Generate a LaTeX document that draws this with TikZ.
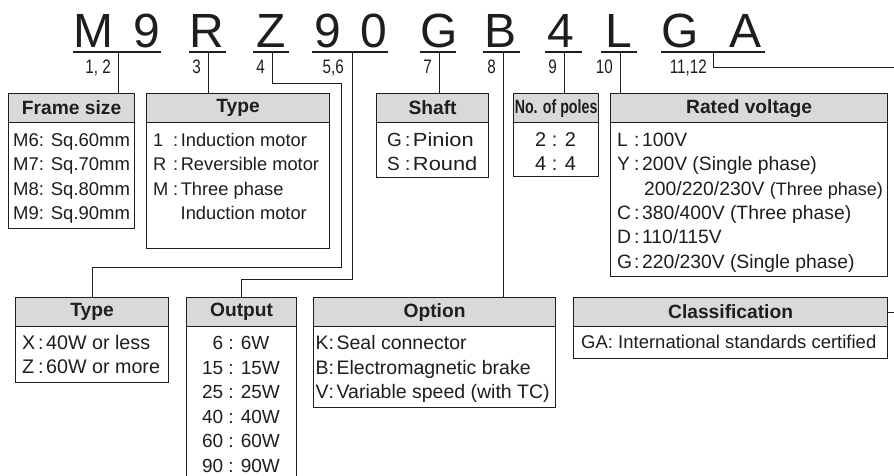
\documentclass[tikz,border=0pt]{standalone}
\usepackage{fontspec}
\setmainfont{Liberation Sans}
\usepackage{graphicx}
\definecolor{hdrgray}{HTML}{D9D9D9}
\definecolor{ink}{HTML}{1E1E1E}
\newcommand\cdl[3]{\makebox[#1pt][l]{#2}:\hspace{2.5pt}#3}
\newcommand\cnd[1]{\scalebox{0.78}[1]{#1}}
\newcommand\wide[1]{\scalebox{1.15}[1]{#1}}
\tikzset{
  bodybox/.style={draw=ink, line width=1.2pt, fill=white, inner sep=0pt, anchor=north west},
  hdrbox/.style={draw=ink, line width=1.2pt, fill=hdrgray, inner sep=0pt, anchor=north west,
    minimum height=29pt, text=ink, font=\fontsize{19.2}{22}\selectfont\bfseries},
  txt/.style={inner sep=0pt, anchor=west, text height=13.3pt, text depth=0pt,
    font=\fontsize{18.5}{22}\selectfont, text=ink},
  tsize/.style={font=\fontsize{#1}{22}\selectfont},
  ctxt/.style={txt, anchor=center},
  big/.style={inner sep=0pt, anchor=base, font=\fontsize{48}{50}\selectfont, text=ink},
  lab/.style={inner sep=0pt, anchor=east, text height=14pt, text depth=0pt,
    font=\fontsize{19.5}{22}\selectfont, text=ink},
  uline/.style={draw=ink, line width=1.1pt},
  conn/.style={draw=ink, line width=1pt},
}
\newcommand\mkbox[6]{%
  \node[bodybox, minimum width={#4-#2}, minimum height={#5-#3}] (#1) at (#2,#3) {};
  \node[hdrbox, minimum width={#4-#2}] (#1h) at (#2,#3) {#6};
}
\begin{document}
\begin{tikzpicture}[x=1pt,y=-1pt]
\useasboundingbox (0,0) rectangle (894,475);
\clip (0,0) rectangle (894,475);

% big code letters
\node[big] (c1) at (93,47) {M};
\node[big] (c2) at (147,47) {9};
\node[big] (c3) at (207,47) {R};
\node[big] (c4) at (271,47) {Z};
\node[big] (c5) at (328,47) {9};
\node[big] (c6) at (374,47) {0};
\node[big] (c7) at (439,47) {G};
\node[big] (c8) at (501,47) {B};
\node[big] (c9) at (561,47) {4};
\node[big] (c10) at (619,47) {L};
\node[big] (c11) at (680,47) {G};
\node[big] (c12) at (745,47) {A};

% underlines
\draw[uline] (73,52) -- (161,52);
\draw[uline] (189,52) -- (226,52);
\draw[uline] (253,52) -- (289,52);
\draw[uline] (312,52) -- (388,52);
\draw[uline] (420,52) -- (456,52);
\draw[uline] (483,52) -- (520,52);
\draw[uline] (545,52) -- (582,52);
\draw[uline] (601,52) -- (637,52);
\draw[uline] (661,52) -- (765,52);

% tick points
\coordinate (k1) at (118,52);
\coordinate (k2) at (208,52);
\coordinate (k3) at (272,52);
\coordinate (k4) at (352,52);
\coordinate (k5) at (439,52);
\coordinate (k6) at (503,52);
\coordinate (k7) at (564,52);
\coordinate (k8) at (620,52);
\coordinate (k9) at (713,52);
\coordinate (farR) at (900,67);

% position labels
\node[lab] (l1) at (111,66) {\cnd{1, 2}};
\node[lab] (l2) at (201,66) {\cnd{3}};
\node[lab] (l3) at (265,66) {\cnd{4}};
\node[lab] (l4) at (344,66) {\cnd{5,6}};
\node[lab] (l5) at (432,66) {\cnd{7}};
\node[lab] (l6) at (496,66) {\cnd{8}};
\node[lab] (l7) at (557,66) {\cnd{9}};
\node[lab] (l8) at (613,66) {\cnd{10}};
\node[lab] (l9) at (707,66) {\cnd{11,12}};

% boxes
\mkbox{fs}{8}{93}{134}{228}{Frame size}
\mkbox{ty}{146}{93}{329}{248}{Type}
\mkbox{sh}{376}{93}{488}{177}{Shaft}
\mkbox{po}{513}{93}{598}{176}{\scalebox{0.74}[1]{No. of poles}}
\mkbox{rv}{610}{93}{887}{276}{Rated voltage}
\mkbox{tz}{15}{297}{168}{382}{Type}
\mkbox{ou}{186}{297}{296}{495}{Output}
\mkbox{op}{313}{297}{555}{407}{Option}
\mkbox{cl}{573}{297}{887}{358}{Classification}

% connectors
\draw[conn] (k1) -- (k1 |- fs.north);
\draw[conn] (k2) -- (k2 |- ty.north);
\draw[conn] (k3) |- (341,83) -- (341,267) -| (tz.north);
\draw[conn] (k4) -- (352,279) -| (ou.north);
\draw[conn] (k5) -- (k5 |- sh.north);
\draw[conn] (k6) -- (k6 |- op.north);
\draw[conn] (k7) -- (k7 |- po.north);
\draw[conn] (k8) -- (k8 |- rv.north);
\draw[conn] (k9) |- (farR) |- (clh.east);

% Frame size
\node[txt] (fs1) at (13,140) {M6: Sq.60mm};
\node[txt] (fs2) at (13,164) {M7: Sq.70mm};
\node[txt] (fs3) at (13,188.5) {M8: Sq.80mm};
\node[txt] (fs4) at (13,213) {M9: Sq.90mm};

% Type
\node[txt, tsize=18.3] (ty1) at (153,140) {\cdl{20}{1}{Induction motor}};
\node[txt, tsize=18.3] (ty2) at (153,164) {\cdl{20}{R}{Reversible motor}};
\node[txt, tsize=18.3] (ty3) at (153,188.5) {\cdl{20}{M}{Three phase}};
\node[txt, tsize=18.3] (ty4) at (180.5,213) {Induction motor};

% Shaft
\node[txt, tsize=19] (sh1) at (387,140) {\cdl{18}{G}{\wide{Pinion}}};
\node[txt, tsize=19] (sh2) at (387,164) {\cdl{18}{S}{\wide{Round}}};

% Poles
\node[ctxt, tsize=20] (po1) at (555.5,140) {2 : 2};
\node[ctxt, tsize=20] (po2) at (555.5,164) {4 : 4};

% Rated voltage
\node[txt, tsize=19.3] (rv1) at (617,140) {\cdl{17}{L}{100V}};
\node[txt, tsize=19.3] (rv2) at (617,164) {\cdl{17}{Y}{200V (Single phase)}};
\node[txt, tsize=19.3] (rv3) at (644,188.5) {200/220/230V {\fontsize{18}{20}\selectfont(Three phase)}};
\node[txt, tsize=19.3] (rv4) at (617,213) {\cdl{17}{C}{380/400V (Three phase)}};
\node[txt, tsize=19.3] (rv5) at (617,237) {\cdl{17}{D}{110/115V}};
\node[txt, tsize=19.3] (rv6) at (617,261.5) {\cdl{17}{G}{220/230V (Single phase)}};

% Type (X/Z)
\node[txt, tsize=19.7] (tz1) at (22,343) {\cdl{16}{X}{40W or less}};
\node[txt, tsize=19.7] (tz2) at (22,367) {\cdl{16}{Z}{60W or more}};

% Output
\node[ctxt, tsize=19] (ou1) at (241,343) {6 : 6W};
\node[ctxt, tsize=19] (ou2) at (241,367.5) {15 : 15W};
\node[ctxt, tsize=19] (ou3) at (241,392) {25 : 25W};
\node[ctxt, tsize=19] (ou4) at (241,416.5) {40 : 40W};
\node[ctxt, tsize=19] (ou5) at (241,441) {60 : 60W};
\node[ctxt, tsize=19] (ou6) at (241,465.5) {90 : 90W};

% Option
\node[txt, tsize=19.5] (op1) at (315.5,343) {\cdl{13}{K}{Seal connector}};
\node[txt, tsize=19.5] (op2) at (315.5,367.5) {\cdl{13}{B}{Electromagnetic brake}};
\node[txt, tsize=19.5] (op3) at (315.5,392) {\cdl{13}{V}{Variable speed (with TC)}};

% Classification
\node[txt] (cl1) at (581,342) {GA: International standards certified};
\end{tikzpicture}
\end{document}
